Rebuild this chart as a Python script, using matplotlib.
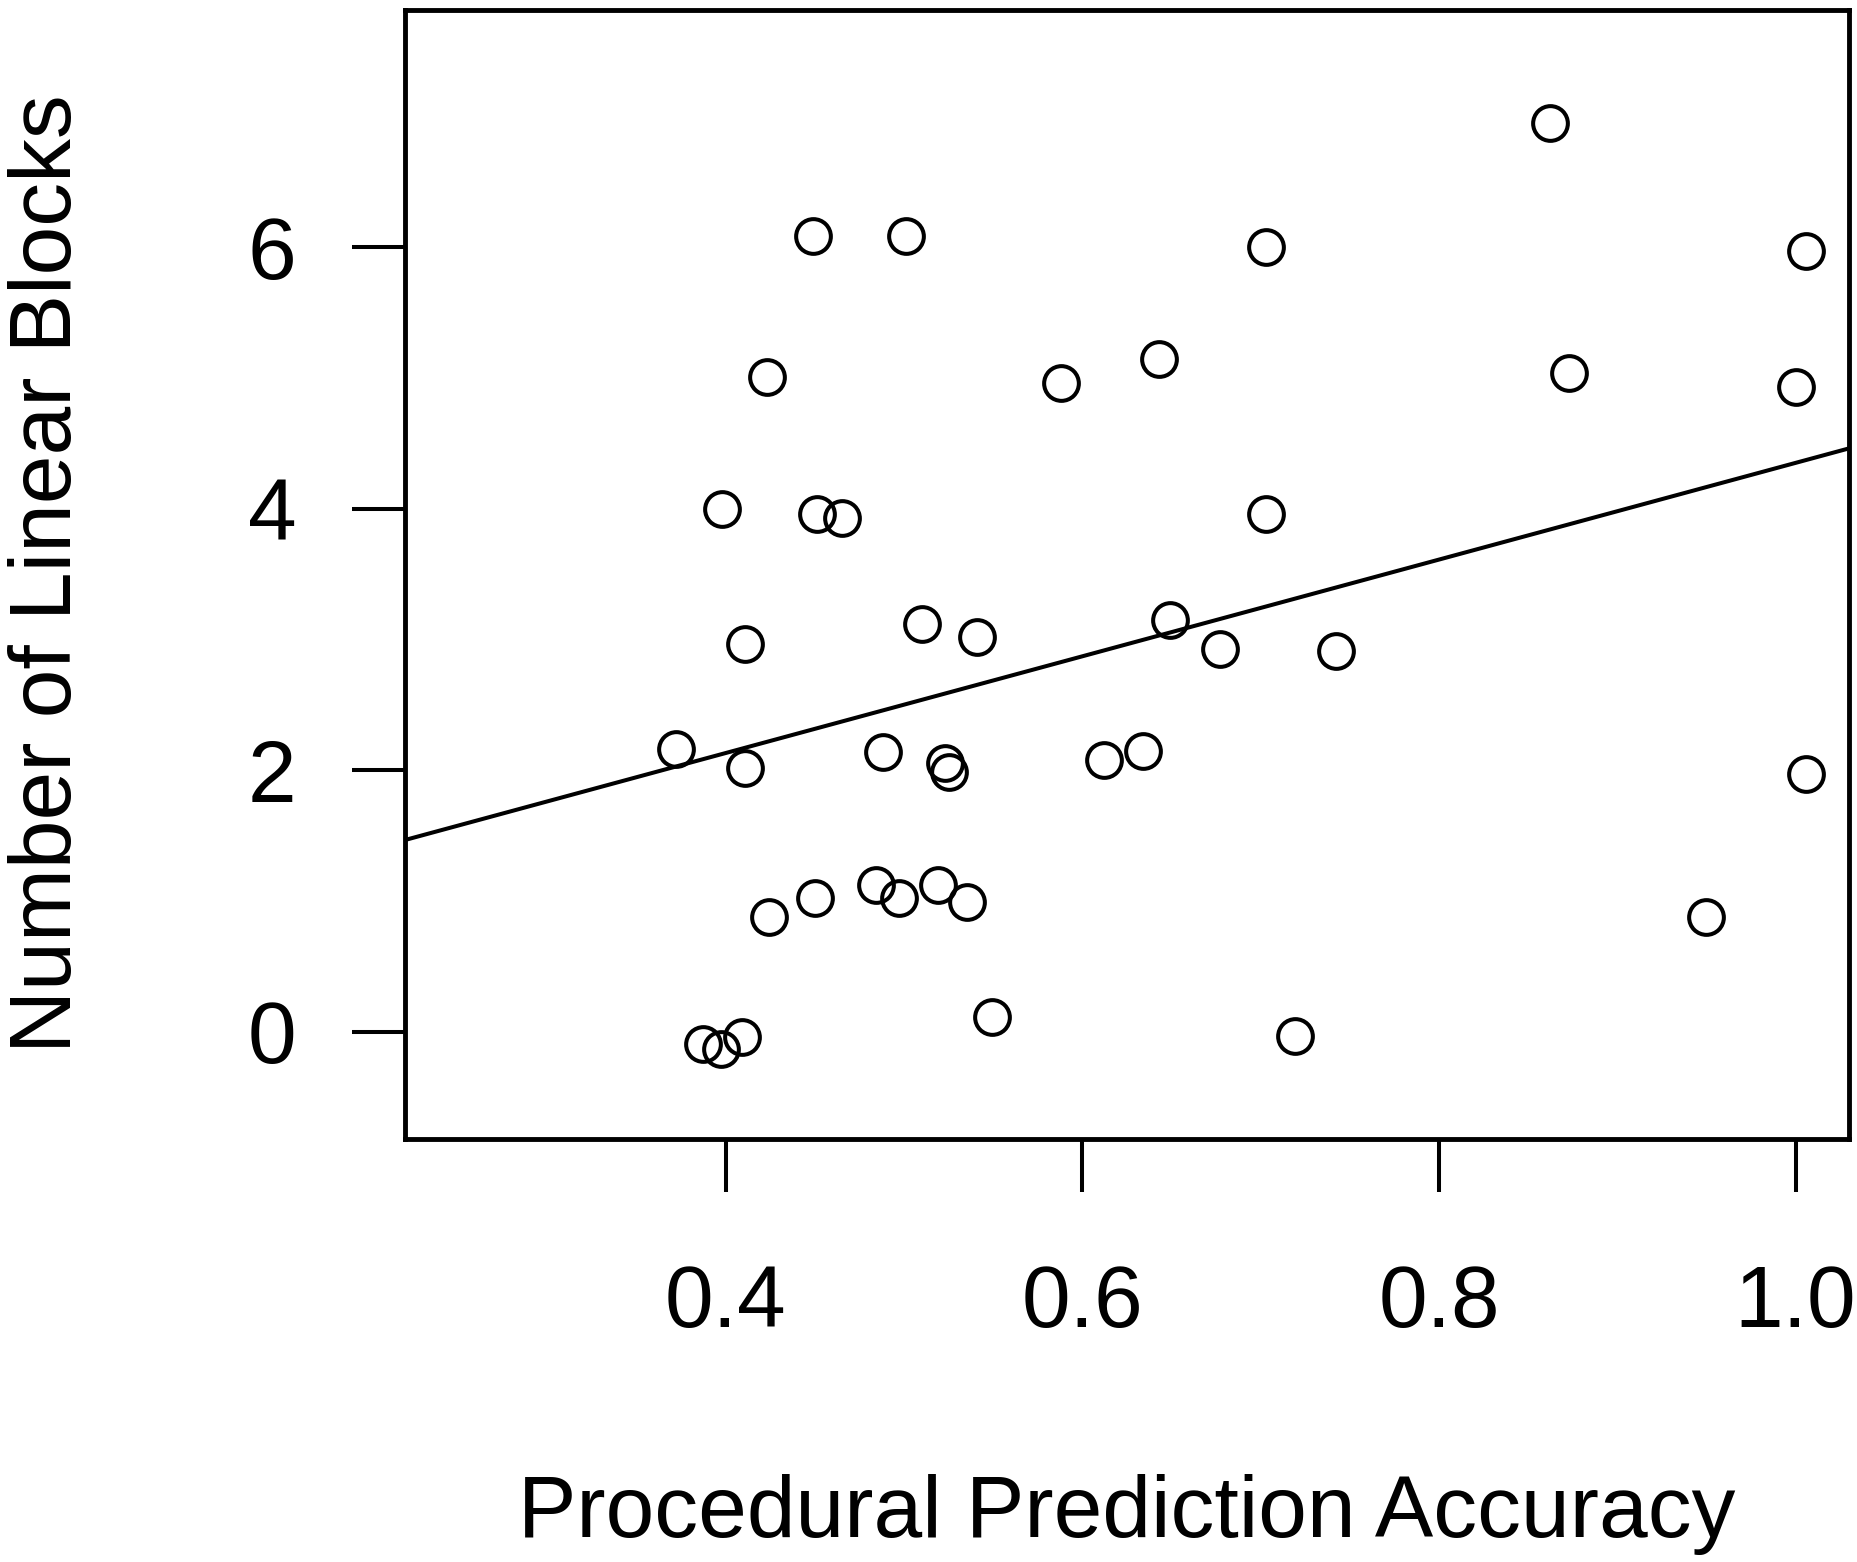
import numpy as np
import matplotlib
matplotlib.use("Agg")
import matplotlib.pyplot as plt

plt.rcParams['font.family'] = ['Liberation Sans', 'DejaVu Sans']

# valeurs (y avec un léger jitter)
accuracy = [0.862, 0.449, 0.501, 0.703, 1.006, 0.643, 0.423, 0.588, 0.873, 1.000,
            0.398, 0.451, 0.465, 0.703, 0.510, 0.541, 0.411, 0.649, 0.677, 0.742,
            0.372, 0.411, 0.488, 0.523, 0.525, 0.612, 0.634, 1.006, 0.484, 0.450,
            0.497, 0.519, 0.535, 0.424, 0.950, 0.549, 0.387, 0.397, 0.409, 0.719]
blocks = [6.95, 6.09, 6.09, 6.00, 5.97, 5.15, 5.01, 4.96, 5.04, 4.93,
          4.00, 3.96, 3.93, 3.96, 3.12, 3.02, 2.97, 3.15, 2.93, 2.91,
          2.16, 2.02, 2.14, 2.06, 1.99, 2.08, 2.15, 1.97, 1.12, 1.02,
          1.02, 1.12, 0.99, 0.88, 0.88, 0.11, -0.09, -0.13, -0.04, -0.03]
x_ticks = [0.4, 0.6, 0.8, 1.0]
y_ticks = [0, 2, 4, 6]

x = np.array(accuracy)
y = np.array(blocks)
slope, intercept = np.polyfit(x, np.round(y), 1)
print(slope, intercept)

W, H = 1858, 1562
fig = plt.figure(figsize=(W / 100, H / 100), dpi=100)
ax = fig.add_axes([405 / W, 1 - 1139 / H, (1849 - 405) / W, (1139 - 9.5) / H])

ax.plot(x, y, 'o', mfc='none', mec='black', ms=25, mew=2.9)
ax.axline((0, intercept), slope=slope, color='black', lw=2.9)

ax.set_xlim(0.22, 1.03)
ax.set_ylim(-0.82, 7.82)
ax.set_xticks(x_ticks)
ax.set_xticklabels(['0.4', '0.6', '0.8', '1.0'])
ax.set_yticks(y_ticks)
ax.set_yticklabels([str(v) for v in y_ticks])
ax.tick_params(axis='x', length=38, width=2.9, labelsize=63, pad=52)
ax.tick_params(axis='y', length=38, width=2.9, labelsize=63, pad=40)
for s in ax.spines.values():
    s.set_linewidth(3.5)

fig.text(1127 / W, 1 - 1537 / H, 'Procedural Prediction Accuracy',
         ha='center', va='baseline', fontsize=63)
fig.text(8 / W, 1 - 574 / H, 'Number of Linear Blocks',
         ha='left', va='center', rotation=90, fontsize=63)

fig.savefig('out.png', dpi=100)
